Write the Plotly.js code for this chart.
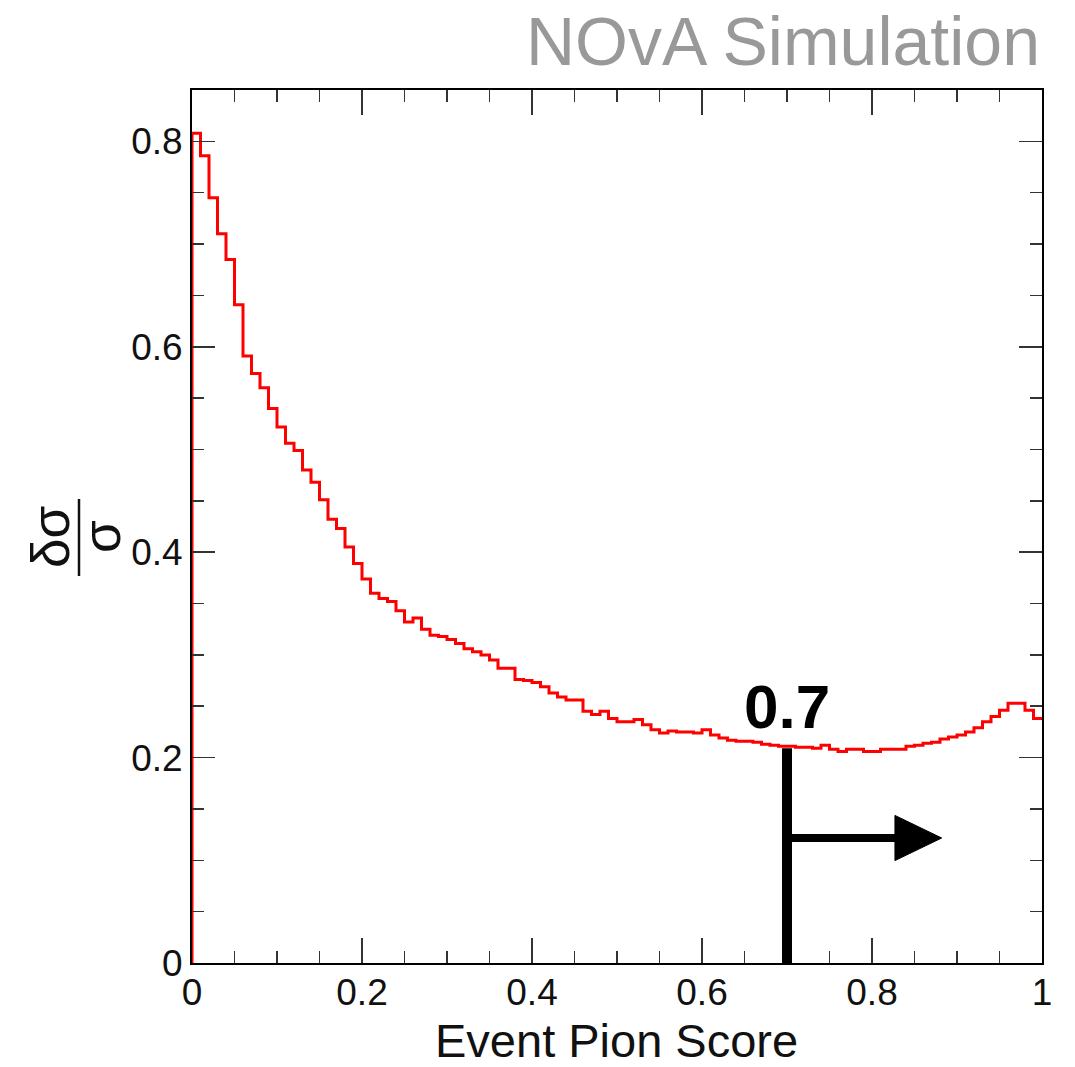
<!DOCTYPE html>
<html>
<head>
<meta charset="utf-8">
<script src="https://cdn.plot.ly/plotly-3.0.1.min.js"></script>
<style>html,body{margin:0;padding:0;background:#fff;}#chart{width:1075px;height:1067px;}</style>
</head>
<body>
<div id="chart"></div>
<script>
// Bin layout: 100 bins over the score range [0, 1]
const scoreMin = 0;
const scoreMax = 1;
const nBins = 100;

// Fractional uncertainty δσ/σ per bin
const fracUncertainty = [
  0.808, 0.786, 0.745, 0.710, 0.685, 0.641, 0.591, 0.574, 0.560, 0.540,
  0.522, 0.506, 0.499, 0.480, 0.468, 0.451, 0.432, 0.423, 0.405, 0.389,
  0.374, 0.360, 0.355, 0.352, 0.343, 0.332, 0.336, 0.325, 0.319, 0.318,
  0.315, 0.311, 0.306, 0.303, 0.300, 0.295, 0.287, 0.287, 0.276, 0.275,
  0.273, 0.269, 0.263, 0.259, 0.256, 0.256, 0.245, 0.242, 0.245, 0.238,
  0.235, 0.235, 0.237, 0.232, 0.227, 0.224, 0.226, 0.225, 0.225, 0.224,
  0.227, 0.222, 0.219, 0.217, 0.216, 0.216, 0.215, 0.213, 0.212, 0.211,
  0.211, 0.210, 0.210, 0.209, 0.212, 0.208, 0.206, 0.208, 0.208, 0.206,
  0.206, 0.208, 0.208, 0.208, 0.211, 0.212, 0.214, 0.215, 0.218, 0.220,
  0.222, 0.225, 0.229, 0.235, 0.240, 0.246, 0.253, 0.253, 0.246, 0.238
];

// Cut marker
const cutValue = 0.7;
const cutLabel = "0.7";
const cutTop = 0.209;
const arrowY = 0.1217;
const arrowTip = 0.882;

const xTitle = "Event Pion Score";
const yNumerator = "δσ";
const yDenominator = "σ";
const simLabel = "NOvA Simulation";

// Build histogram outline (step line) from bin lower edges
const binWidth = (scoreMax - scoreMin) / nBins;
const xs = [scoreMin];
const ys = [0];
fracUncertainty.forEach((v, i) => { xs.push(scoreMin + i * binWidth); ys.push(v); });
xs.push(scoreMax); ys.push(fracUncertainty[fracUncertainty.length - 1]);

const font = "'Liberation Sans', Arial, Helvetica, sans-serif";

const trace = {
  x: xs, y: ys, type: 'scatter', mode: 'lines',
  line: {shape: 'hv', color: '#ff0000', width: 3},
  hoverinfo: 'skip', showlegend: false
};

const W = 1075, H = 1067;
const L = 192, R = 33, T = 90, B = 104;
const pw = W - L - R, ph = H - T - B;
const px2paperX = p => (p - L) / pw;
const px2paperY = p => (H - B - p) / ph;

const layout = {
  width: W, height: H,
  margin: {l: L, r: R, t: T, b: B, pad: 0},
  paper_bgcolor: '#ffffff', plot_bgcolor: '#ffffff',
  showlegend: false,
  font: {family: font, color: '#000000'},
  xaxis: {
    range: [scoreMin, scoreMax], showgrid: false, zeroline: false,
    showline: true, linecolor: '#000000', linewidth: 2, mirror: 'ticks',
    ticks: 'inside', ticklen: 25, tickwidth: 1.5, tickcolor: '#333333',
    ticklabelstandoff: -4,
    tickvals: [0, 0.2, 0.4, 0.6, 0.8, 1], ticktext: ['0', '0.2', '0.4', '0.6', '0.8', '1'],
    minor: {dtick: 0.05, tick0: 0, ticks: 'inside', ticklen: 12, tickwidth: 1.5, tickcolor: '#333333', showgrid: false},
    tickfont: {size: 37, family: font, color: '#111111'}
  },
  yaxis: {
    range: [0, 0.85], showgrid: false, zeroline: false,
    showline: true, linecolor: '#000000', linewidth: 2, mirror: 'ticks',
    ticks: 'inside', ticklen: 23, tickwidth: 1.5, tickcolor: '#333333',
    tickvals: [0, 0.2, 0.4, 0.6, 0.8], ticktext: ['0', '0.2', '0.4', '0.6', '0.8'],
    minor: {dtick: 0.05, tick0: 0, ticks: 'inside', ticklen: 12, tickwidth: 1.5, tickcolor: '#333333', showgrid: false},
    tickfont: {size: 37, family: font, color: '#111111'}
  },
  shapes: [
    {type: 'line', xref: 'x', yref: 'y', x0: cutValue, x1: cutValue, y0: 0, y1: cutTop,
     line: {color: '#000000', width: 10}},
    {type: 'line', xref: 'x', yref: 'y', x0: cutValue, x1: arrowTip - 0.05, y0: arrowY, y1: arrowY,
     line: {color: '#000000', width: 8}},
    {type: 'path', xref: 'x', yref: 'y',
     path: `M ${arrowTip - 0.055} ${arrowY + 0.022} L ${arrowTip} ${arrowY} L ${arrowTip - 0.055} ${arrowY - 0.022} Z`,
     fillcolor: '#000000', line: {color: '#000000', width: 1}},
    {type: 'line', xref: 'paper', yref: 'paper',
     x0: px2paperX(79), x1: px2paperX(79), y0: px2paperY(499), y1: px2paperY(576),
     line: {color: '#111111', width: 2.5}}
  ],
  annotations: [
    {text: cutLabel, xref: 'x', yref: 'y', x: cutValue, y: cutTop + 0.005,
     xanchor: 'center', yanchor: 'bottom', showarrow: false,
     font: {size: 62, family: font, color: '#000000', weight: 'bold'}},
    {text: yNumerator, xref: 'paper', yref: 'paper', x: px2paperX(50), y: px2paperY(537),
     xanchor: 'center', yanchor: 'middle', textangle: -90, showarrow: false,
     font: {size: 53, family: font, color: '#111111'}},
    {text: yDenominator, xref: 'paper', yref: 'paper', x: px2paperX(101), y: px2paperY(537),
     xanchor: 'center', yanchor: 'middle', textangle: -90, showarrow: false,
     font: {size: 53, family: font, color: '#111111'}},
    {text: simLabel, xref: 'paper', yref: 'paper', x: 1, y: px2paperY(41),
     xanchor: 'right', yanchor: 'middle', showarrow: false,
     font: {size: 68, family: font, color: '#999999'}},
    {text: xTitle, xref: 'paper', yref: 'paper', x: px2paperX(616), y: px2paperY(1040),
     xanchor: 'center', yanchor: 'middle', showarrow: false,
     font: {size: 47, family: font, color: '#111111'}}
  ]
};

Plotly.newPlot('chart', [trace], layout, {displayModeBar: false, staticPlot: true});
</script>
</body>
</html>
